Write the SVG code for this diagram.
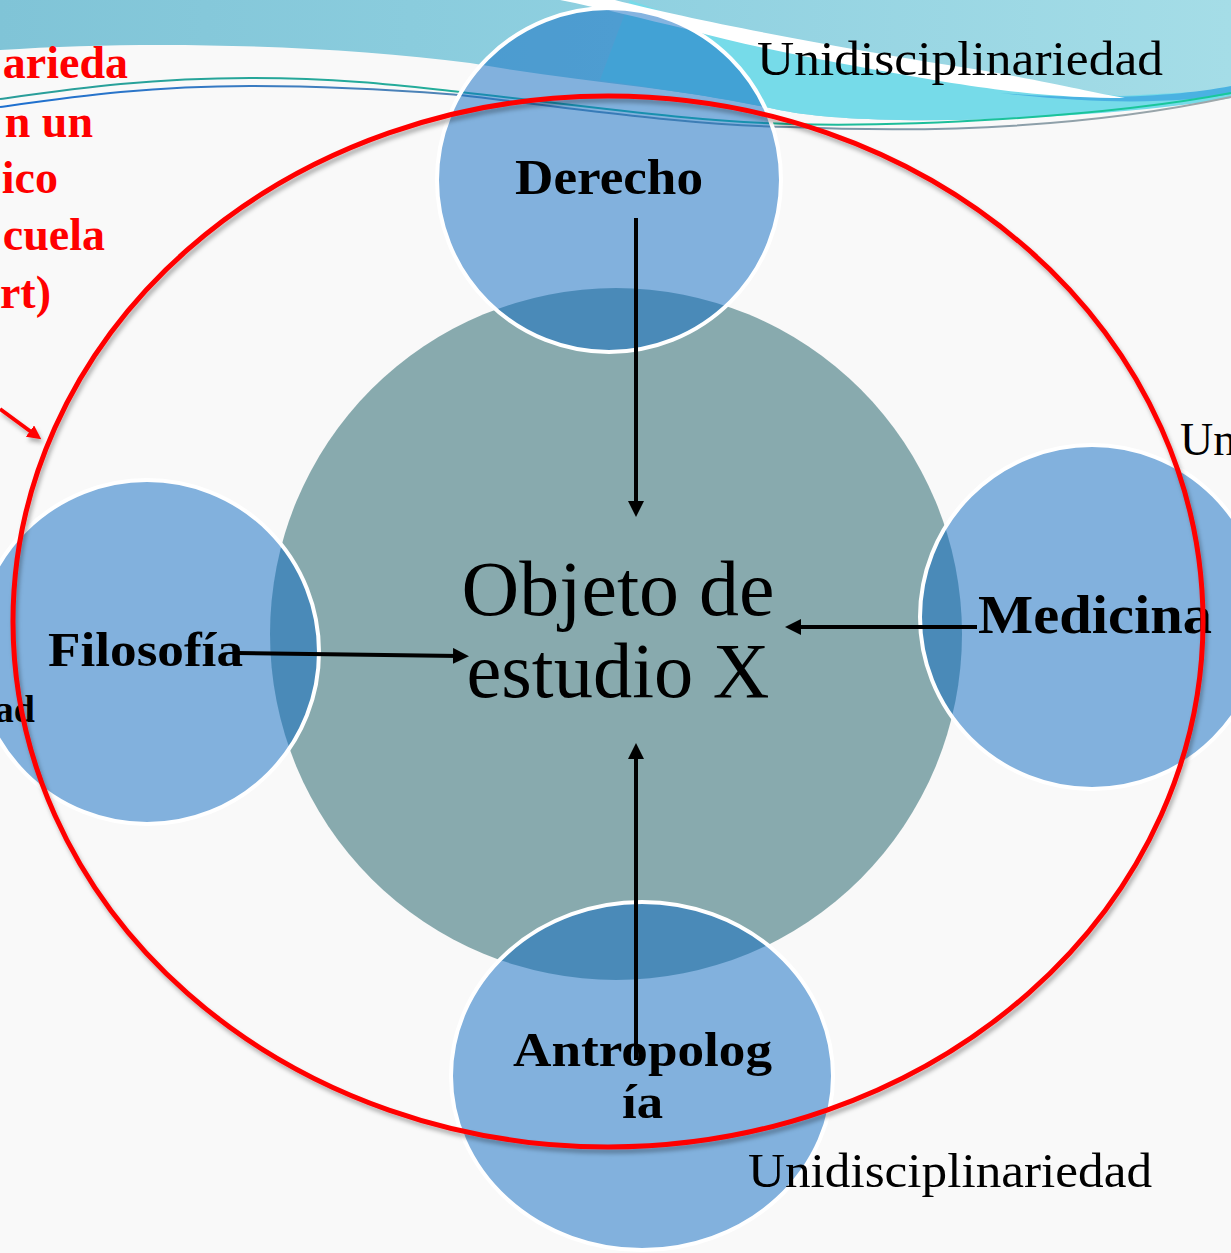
<svg xmlns="http://www.w3.org/2000/svg" width="1231" height="1253" viewBox="0 0 1231 1253">
<defs>
<style>
.bold{font-family:"Liberation Serif","Times New Roman",serif;font-weight:bold;fill:#000}
.reg{font-family:"Liberation Serif","Times New Roman",serif;fill:#000}
.red{font-family:"Liberation Serif","Times New Roman",serif;font-weight:bold;fill:#ff0000;font-size:46px}
.disc{fill:#106cc2;fill-opacity:0.51;stroke:#ffffff;stroke-width:4}
.conn{stroke:#000;stroke-width:4;fill:none;marker-end:url(#ah)}
</style>
<marker id="ah" viewBox="0 0 16 16" markerUnits="userSpaceOnUse" markerWidth="16" markerHeight="16" refX="6" refY="8" orient="auto">
<path d="M0,0 L16,8 L0,16 Z" fill="#000"/>
</marker>
<marker id="rah" viewBox="0 0 14 14" markerUnits="userSpaceOnUse" markerWidth="14" markerHeight="14" refX="5" refY="7" orient="auto">
<path d="M0,0 L14,7 L0,14 Z" fill="#ff0000"/>
</marker>
<linearGradient id="band" x1="0" y1="0" x2="1" y2="0">
<stop offset="0" stop-color="#80c4d7"/>
<stop offset="0.5" stop-color="#8fd0e0"/>
<stop offset="1" stop-color="#a5dde7"/>
</linearGradient>
<linearGradient id="lineA" x1="0" y1="0" x2="1" y2="0">
<stop offset="0" stop-color="#2a9d9a"/>
<stop offset="1" stop-color="#18c99a"/>
</linearGradient>
<linearGradient id="lineB" x1="0" y1="0" x2="1" y2="0">
<stop offset="0" stop-color="#1c6fd0"/>
<stop offset="0.55" stop-color="#6a8fa8"/>
<stop offset="1" stop-color="#a0a8aa"/>
</linearGradient>
<filter id="sh" x="-5%" y="-5%" width="110%" height="110%">
<feDropShadow dx="2" dy="4" stdDeviation="2" flood-color="#000" flood-opacity="0.3"/>
</filter>
</defs>

<rect x="0" y="0" width="1231" height="1253" fill="#f9f9f9"/>

<g id="background-waves">
<path d="M0,0 H1231 V92 C1150,110 1000,122 900,120 C840,119 800,115 770,108 C680,88 580,82 470,63 C330,45 150,40 0,50 Z" fill="url(#band)"/>
<path d="M630,0 C720,35 900,72 1120,96 L1231,90 V98 C1150,112 1000,122 900,120 C840,119 800,115 770,108 C700,94 650,88 600,80 Z" fill="#76dbe9"/>
<path d="M1000,93 C1100,101 1180,96 1231,86 V94 C1180,103 1100,105 1000,93 Z" fill="#4ab2e2"/>
<path d="M560,0 L615,0 C700,22 850,50 980,70 C1050,82 1090,92 1125,98 C1060,98 1000,93 866,68 C800,56 740,44 690,30 C640,18 600,8 560,0 Z" fill="#ffffff"/>
<path d="M0,99 C80,88 150,78 250,78 C350,78 420,88 460,92 C600,108 700,122 790,124 C900,127 1100,118 1231,93" fill="none" stroke="url(#lineA)" stroke-width="2"/>
<path d="M0,107 C80,96 150,86 250,86 C350,86 420,92 460,95 C600,112 700,126 790,127 C950,134 1100,125 1231,97" fill="none" stroke="url(#lineB)" stroke-width="2"/>
</g>

<g id="node-objeto">
<circle cx="616" cy="634" r="346" fill="#88aaae"/>
<text class="reg" font-size="78" x="618" y="615" text-anchor="middle" textLength="313" lengthAdjust="spacingAndGlyphs">Objeto de</text>
<text class="reg" font-size="78" x="618" y="697" text-anchor="middle" textLength="303" lengthAdjust="spacingAndGlyphs">estudio X</text>
</g>

<g id="node-derecho">
<circle class="disc" cx="609" cy="180" r="172"/>
<text class="bold" font-size="50" x="609" y="194" text-anchor="middle" textLength="188" lengthAdjust="spacingAndGlyphs">Derecho</text>
</g>

<g id="node-filosofia">
<circle class="disc" cx="147" cy="652" r="172"/>
<text class="bold" font-size="48" x="48" y="666" textLength="195" lengthAdjust="spacingAndGlyphs">Filosofía</text>
</g>

<g id="node-medicina">
<circle class="disc" cx="1092" cy="617" r="172"/>
<text class="bold" font-size="54" x="978" y="633" textLength="234" lengthAdjust="spacingAndGlyphs">Medicina</text>
</g>

<g id="node-antropologia">
<ellipse class="disc" cx="642" cy="1076" rx="191" ry="174"/>
<text class="bold" font-size="48" x="513" y="1066" textLength="259" lengthAdjust="spacingAndGlyphs">Antropolog</text>
<text class="bold" font-size="48" x="622" y="1118" textLength="41" lengthAdjust="spacingAndGlyphs">ía</text>
</g>

<g id="connectors">
<line class="conn" x1="636" y1="218" x2="636" y2="507"/>
<line class="conn" x1="237" y1="653" x2="459" y2="656"/>
<line class="conn" x1="977" y1="627" x2="795" y2="627"/>
<line class="conn" x1="636" y1="1060" x2="636" y2="753"/>
</g>

<g id="labels">
<text class="reg" font-size="48" x="757" y="75" textLength="406" lengthAdjust="spacingAndGlyphs">Unidisciplinariedad</text>
<text class="reg" font-size="48" x="748" y="1187" textLength="404" lengthAdjust="spacingAndGlyphs">Unidisciplinariedad</text>
<text class="reg" font-size="46" x="1180" y="455">Un</text>
<text class="bold" font-size="38" x="35" y="722" text-anchor="end">ad</text>
<text class="red" x="128" y="78" text-anchor="end">arieda</text>
<text class="red" x="93" y="137" text-anchor="end">n un</text>
<text class="red" x="58" y="193" text-anchor="end">ico</text>
<text class="red" x="105" y="250" text-anchor="end">cuela</text>
<text class="red" x="51" y="308" text-anchor="end">rt)</text>
</g>

<g id="red-outline" filter="url(#sh)">
<ellipse cx="608" cy="621.5" rx="595" ry="525.5" fill="none" stroke="#ff0000" stroke-width="5"/>
<line x1="0" y1="409" x2="34" y2="434" stroke="#ff0000" stroke-width="4" marker-end="url(#rah)"/>
</g>
</svg>
